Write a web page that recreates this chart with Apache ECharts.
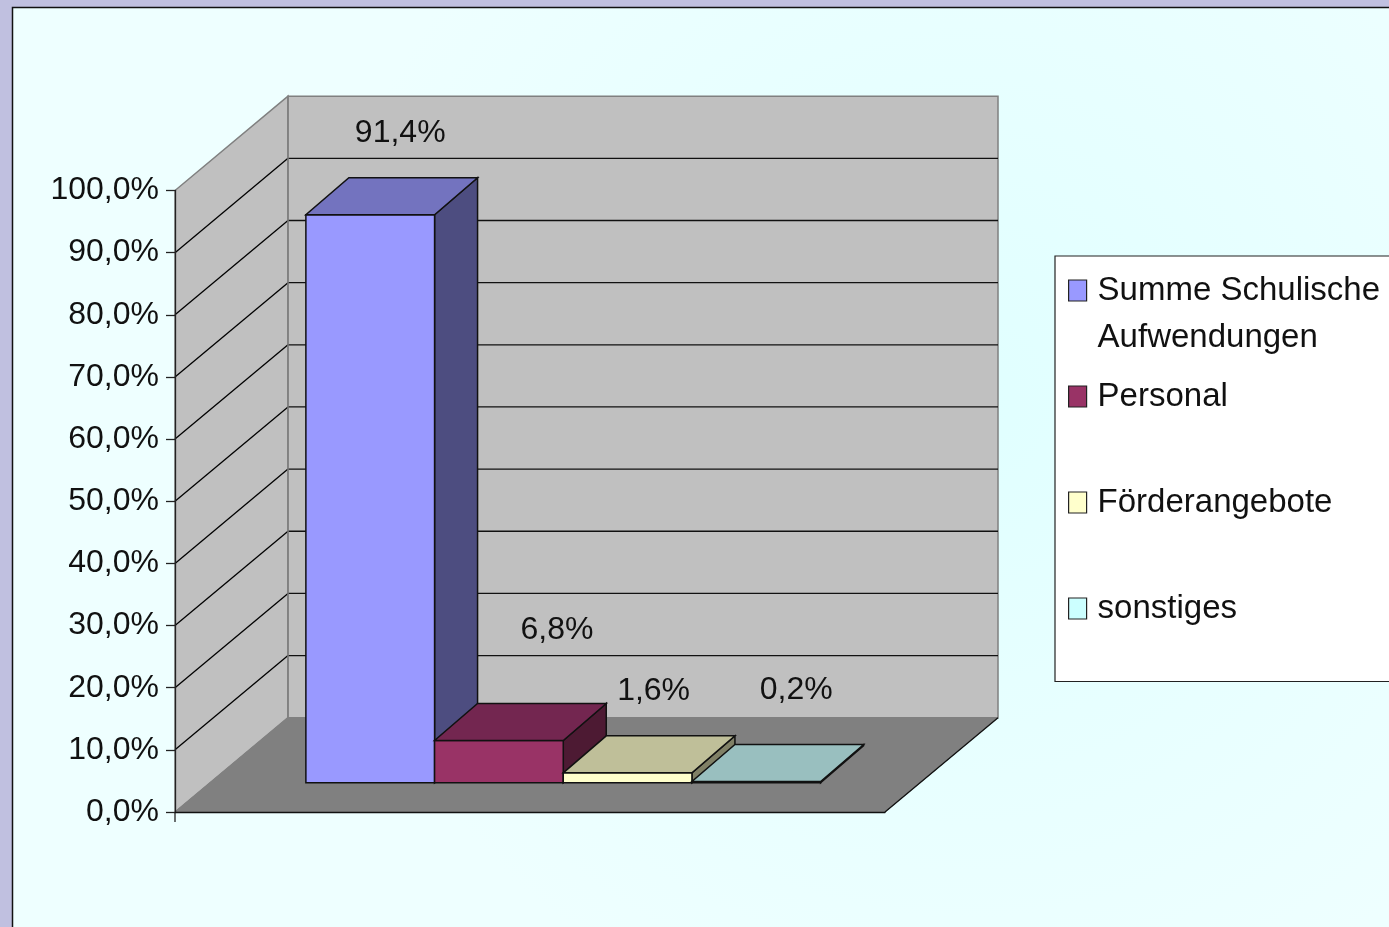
<!DOCTYPE html>
<html>
<head>
<meta charset="utf-8">
<title>Aufwendungen</title>
<style>
html, body { margin: 0; padding: 0; background: #c0c0e0; }
#main { width: 1389px; height: 927px; }
</style>
<script src="https://cdn.jsdelivr.net/npm/echarts@6/dist/echarts.min.js"></script>
</head>
<body>
<div id="main"></div>
<script>
// Daten
var seriesNames = ['Summe Schulische\nAufwendungen', 'Personal', 'Förderangebote', 'sonstiges'];
var seriesValues = [91.4, 6.8, 1.6, 0.2];
var yTicks = [10, 20, 30, 40, 50, 60, 70, 80, 90];

// Farben je Balken: Front, Deckel, Seite
var frontColors = ['#9999ff', '#993366', '#ffffcc', '#ccffff'];
var topColors = ['#7373bf', '#732650', '#bfbf99', '#99bfbf'];
var sideColors = ['#4d4d80', '#4d1a33', '#808066', '#668080'];

// Verschiebung der Werte-Beschriftung gegenueber der Balkenfront (oben, Mitte)
var labelShiftX = [30, 58, 26, 40];
var labelShiftY = [-82, -110, -82, -91];

var FONT = '"Liberation Sans", Arial, sans-serif';
var FONT_SIZE = 32;
var LEGEND_FONT_SIZE = 33;
var WALL_DX = 113, WALL_DY = 94.3;   // Tiefe des Diagramms
var BAR_DX = 43, BAR_DY = 37;        // Tiefe eines Balkens
var BAR_FRONT = 0.31;                // Abstand Balken zur Vorderkante
var GROUP_LEFT = 0.135;              // Abstand der Balkengruppe von links
var GROUP_WIDTH = 0.725;             // Anteil der Balkengruppe an der Breite

function fmt(v) {
	return v.toFixed(1).replace('.', ',') + '%';
}

function poly(points, fill, stroke, width) {
	return {
		type: 'polygon',
		shape: { points: points },
		style: { fill: fill, stroke: stroke, lineWidth: width === undefined ? 1 : width }
	};
}

function line(p1, p2, stroke, width) {
	return {
		type: 'line',
		shape: { x1: p1[0], y1: p1[1], x2: p2[0], y2: p2[1] },
		style: { stroke: stroke, lineWidth: width === undefined ? 1 : width }
	};
}

function plotBox(api) {
	var p0 = api.coord([0, 0]);
	var p100 = api.coord([0, 100]);
	var band = api.size([1, 0])[0];
	return { left: p0[0] - band / 2, right: p0[0] + band / 2, y0: p0[1], y100: p100[1], band: band, cx: p0[0] };
}

// Seitenwand, Rueckwand, Boden
function renderWalls(params, api) {
	var b = plotBox(api);
	var backL = b.left + WALL_DX, backR = b.right + WALL_DX;
	return {
		type: 'group',
		children: [
			poly([[b.left, b.y0], [backL, b.y0 - WALL_DY], [backL, b.y100 - WALL_DY], [b.left, b.y100]], '#c0c0c0', '#808080', 1.5),
			poly([[backL, b.y0 - WALL_DY], [backR, b.y0 - WALL_DY], [backR, b.y100 - WALL_DY], [backL, b.y100 - WALL_DY]], '#c0c0c0', '#808080', 1.5),
			poly([[b.left, b.y0], [b.right, b.y0], [backR, b.y0 - WALL_DY], [backL, b.y0 - WALL_DY]], '#808080', '#808080', 1)
		]
	};
}

function renderGridLine(params, api) {
	var b = plotBox(api);
	var y = api.coord([0, api.value(0)])[1];
	var backL = b.left + WALL_DX, backR = b.right + WALL_DX;
	return {
		type: 'group',
		children: [
			line([b.left, y], [backL, y - WALL_DY], '#000000', 1.3),
			line([backL, y - WALL_DY], [backR, y - WALL_DY], '#111111', 1.3)
		]
	};
}

function renderEdges(params, api) {
	var b = plotBox(api);
	var backL = b.left + WALL_DX, backR = b.right + WALL_DX;
	return {
		type: 'group',
		children: [
			line([backL, b.y0 - WALL_DY], [backL, b.y100 - WALL_DY], '#808080', 1.5),
			line([b.right, b.y0], [backR, b.y0 - WALL_DY], '#111111', 1.3),
			line([b.left, b.y0], [b.left, b.y0 + 10], '#222222', 1.3)
		]
	};
}

function renderBar(params, api) {
	var i = params.seriesIndex - 3;
	var b = plotBox(api);
	var w = b.band * GROUP_WIDTH / seriesValues.length;
	var dx = WALL_DX * BAR_FRONT, dy = WALL_DY * BAR_FRONT;
	var x1 = b.left + b.band * GROUP_LEFT + dx + i * w;
	var x2 = x1 + w;
	var yBase = b.y0 - dy;
	var yTop = api.coord([0, api.value(1)])[1] - dy;
	return {
		type: 'group',
		children: [
			poly([[x2, yBase], [x2 + BAR_DX, yBase - BAR_DY], [x2 + BAR_DX, yTop - BAR_DY], [x2, yTop]], sideColors[i], '#111111', 1.5),
			poly([[x1, yBase], [x2, yBase], [x2, yTop], [x1, yTop]], frontColors[i], '#111111', 1.5),
			poly([[x1, yTop], [x2, yTop], [x2 + BAR_DX, yTop - BAR_DY], [x1 + BAR_DX, yTop - BAR_DY]], topColors[i], '#111111', 1.5),
			{
				type: 'text',
				style: {
					text: fmt(api.value(1)),
					x: (x1 + x2) / 2 + labelShiftX[i],
					y: yTop + labelShiftY[i],
					align: 'center',
					verticalAlign: 'middle',
					fill: '#111111',
					fontFamily: FONT,
					fontSize: FONT_SIZE
				}
			}
		]
	};
}

var series = [
	{ type: 'custom', silent: true, clip: false, z: 1, renderItem: renderWalls, data: [[0]] },
	{ type: 'custom', silent: true, clip: false, z: 1, renderItem: renderGridLine, data: yTicks.map(function(t) { return [t]; }) },
	{ type: 'custom', silent: true, clip: false, z: 1, renderItem: renderEdges, data: [[0]] }
];
for(var i = 0; i < seriesNames.length; i++) {
	series.push({
		name: seriesNames[i],
		type: 'custom',
		silent: true,
		clip: false,
		z: 2,
		itemStyle: { color: frontColors[i] },
		renderItem: renderBar,
		data: [[0, seriesValues[i]]]
	});
}

var option = {
	animation: false,
	backgroundColor: '#c0c0e0',
	textStyle: { fontFamily: FONT },
	grid: { left: 175, top: 190.5, width: 710, height: 621.5 },
	xAxis: {
		type: 'category',
		data: [''],
		z: 5,
		axisLine: { lineStyle: { color: '#111111', width: 1.3 } },
		axisTick: { show: false },
		axisLabel: { show: false }
	},
	yAxis: {
		type: 'value',
		min: 0,
		max: 100,
		interval: 10,
		z: 5,
		splitLine: { show: false },
		axisLine: { show: true, lineStyle: { color: '#222222', width: 1.3 } },
		axisTick: { show: true, length: 9, lineStyle: { color: '#222222', width: 1.3 } },
		axisLabel: {
			margin: 16,
			color: '#111111',
			fontFamily: FONT,
			fontSize: FONT_SIZE,
			padding: [6, 0, 0, 0],
			formatter: function(v) { return fmt(v); }
		}
	},
	legend: {
		orient: 'vertical',
		left: 1068,
		top: 220,
		padding: 0,
		itemGap: -35,
		itemWidth: 18,
		itemHeight: 21,
		icon: 'rect',
		itemStyle: { borderColor: '#222222', borderWidth: 1.2 },
		selectedMode: false,
		data: seriesNames,
		textStyle: {
			color: '#111111',
			fontFamily: FONT,
			fontSize: LEGEND_FONT_SIZE,
			lineHeight: 47,
			padding: [0, 0, 0, 6]
		},
		formatter: function(name) {
			// Leerzeilen, damit das Symbol auf Hoehe der ersten Zeile steht
			return name.indexOf('\n') >= 0 ? ' \n' + name : ' \n' + name + '\n ';
		}
	},
	graphic: [
		{
			type: 'rect',
			z: -10,
			silent: true,
			shape: { x: 12.5, y: 7.5, width: 1400, height: 940 },
			style: {
				stroke: '#111111',
				lineWidth: 1.5,
				fill: {
					type: 'radial',
					x: 0.68,
					y: 0.42,
					r: 0.7,
					colorStops: [{ offset: 0, color: '#e0ffff' }, { offset: 1, color: '#eeffff' }]
				}
			}
		},
		{
			type: 'rect',
			z: -9,
			silent: true,
			shape: { x: 1055, y: 256, width: 400, height: 425.5 },
			style: { fill: '#ffffff', stroke: '#222222', lineWidth: 1.2 }
		}
	],
	series: series
};

var chart = echarts.init(document.getElementById('main'));
chart.setOption(option);
</script>
</body>
</html>
